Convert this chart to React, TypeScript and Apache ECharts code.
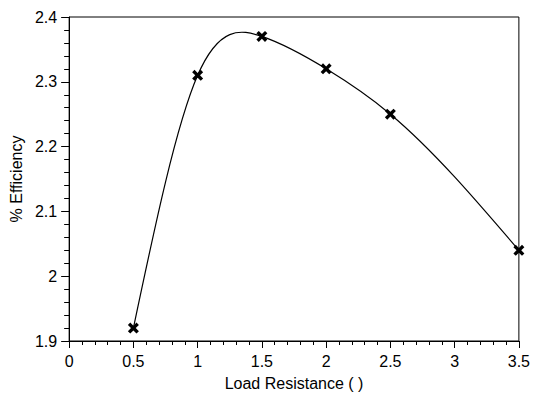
import React, { useEffect, useRef } from "react";
import * as echarts from "echarts";

const loadResistance = [0.5, 1, 1.5, 2, 2.5, 3.5];
const efficiency = [1.92, 2.31, 2.37, 2.32, 2.25, 2.04];
const xTitle = "Load Resistance ( )";
const yTitle = "% Efficiency";

const crossPath =
  "path://M0,2.6 L2.6,0 L6,3.4 L9.4,0 L12,2.6 L8.6,6 L12,9.4 L9.4,12 L6,8.6 L2.6,12 L0,9.4 L3.4,6 Z";

// natural cubic spline derivatives at the knots (used only to shape the drawn curve)
function splineSlopes(xs: number[], ys: number[]): number[] {
  const n = xs.length;
  const h: number[] = [];
  for (let i = 0; i < n - 1; i++) h.push(xs[i + 1] - xs[i]);
  const M = new Array(n).fill(0);
  const a: number[] = [], b: number[] = [], c: number[] = [], d: number[] = [];
  for (let i = 1; i < n - 1; i++) {
    a.push(h[i - 1]);
    b.push(2 * (h[i - 1] + h[i]));
    c.push(h[i]);
    d.push(6 * ((ys[i + 1] - ys[i]) / h[i] - (ys[i] - ys[i - 1]) / h[i - 1]));
  }
  const m = b.length;
  for (let i = 1; i < m; i++) {
    const w = a[i] / b[i - 1];
    b[i] -= w * c[i - 1];
    d[i] -= w * d[i - 1];
  }
  const sol = new Array(m).fill(0);
  for (let i = m - 1; i >= 0; i--) {
    sol[i] = (d[i] - (i < m - 1 ? c[i] * sol[i + 1] : 0)) / b[i];
  }
  for (let i = 0; i < m; i++) M[i + 1] = sol[i];
  const slopes: number[] = [];
  for (let i = 0; i < n; i++) {
    if (i < n - 1) {
      const s = (ys[i + 1] - ys[i]) / h[i];
      slopes.push(s - (h[i] * (2 * M[i] + M[i + 1])) / 6);
    } else {
      const s = (ys[i] - ys[i - 1]) / h[i - 1];
      slopes.push(s + (h[i - 1] * (M[i - 1] + 2 * M[i])) / 6);
    }
  }
  return slopes;
}

export default function App() {
  const ref = useRef<HTMLDivElement>(null);
  useEffect(() => {
    if (!ref.current) return;
    const chart = echarts.init(ref.current, null, { renderer: "svg" });
    const font = "Liberation Sans, Arial, sans-serif";
    const pts = loadResistance.map((x, i) => [x, efficiency[i]]);
    const slopes = splineSlopes(loadResistance, efficiency);
    chart.setOption({
      animation: false,
      backgroundColor: "#fff",
      grid: {
        left: 67,
        top: 17,
        right: 14,
        bottom: 53,
        show: true,
        borderColor: "#000",
        borderWidth: 1,
      },
      xAxis: {
        type: "value",
        min: 0,
        max: 3.5,
        interval: 0.5,
        name: xTitle,
        nameLocation: "middle",
        nameGap: 34,
        nameTextStyle: { fontFamily: font, fontSize: 16, color: "#000" },
        axisLine: { show: true, lineStyle: { color: "#000", width: 1 } },
        axisTick: { show: true, inside: false, length: 7, lineStyle: { color: "#000" } },
        minorTick: { show: true, splitNumber: 5, length: 4, lineStyle: { color: "#000" } },
        splitLine: { show: false },
        axisLabel: {
          fontFamily: font,
          fontSize: 16,
          color: "#000",
          margin: 12,
          formatter: (v: number) => String(v),
        },
      },
      yAxis: {
        type: "value",
        min: 1.9,
        max: 2.4,
        interval: 0.1,
        name: yTitle,
        nameLocation: "middle",
        nameRotate: 90,
        nameGap: 42,
        nameTextStyle: { fontFamily: font, fontSize: 16, color: "#000" },
        axisLine: { show: true, lineStyle: { color: "#000", width: 1 } },
        axisTick: { show: true, inside: false, length: 8, lineStyle: { color: "#000" } },
        minorTick: { show: true, splitNumber: 5, length: 5, lineStyle: { color: "#000" } },
        splitLine: { show: false },
        axisLabel: {
          fontFamily: font,
          fontSize: 16,
          color: "#000",
          margin: 12,
          formatter: (v: number) => String(Math.round(v * 10) / 10),
        },
      },
      series: [
        {
          type: "custom",
          data: [0],
          silent: true,
          renderItem: (_params: any, api: any) => {
            let d = "";
            for (let i = 0; i < pts.length; i++) {
              const p = api.coord(pts[i]);
              if (i === 0) {
                d += `M${p[0]},${p[1]}`;
                continue;
              }
              const h = pts[i][0] - pts[i - 1][0];
              const c1 = api.coord([pts[i - 1][0] + h / 3, pts[i - 1][1] + (slopes[i - 1] * h) / 3]);
              const c2 = api.coord([pts[i][0] - h / 3, pts[i][1] - (slopes[i] * h) / 3]);
              d += ` C${c1[0]},${c1[1]} ${c2[0]},${c2[1]} ${p[0]},${p[1]}`;
            }
            return {
              type: "path",
              shape: { pathData: d },
              style: { fill: "none", stroke: "#000", lineWidth: 1.2 },
            };
          },
          z: 2,
        },
        {
          type: "scatter",
          data: pts,
          symbol: crossPath,
          symbolSize: 11,
          itemStyle: { color: "#000", opacity: 1 },
          z: 3,
        },
      ],
    });
    return () => chart.dispose();
  }, []);
  return <div ref={ref} style={{ width: 533, height: 396, position: "absolute", left: 0, top: 0 }} />;
}
